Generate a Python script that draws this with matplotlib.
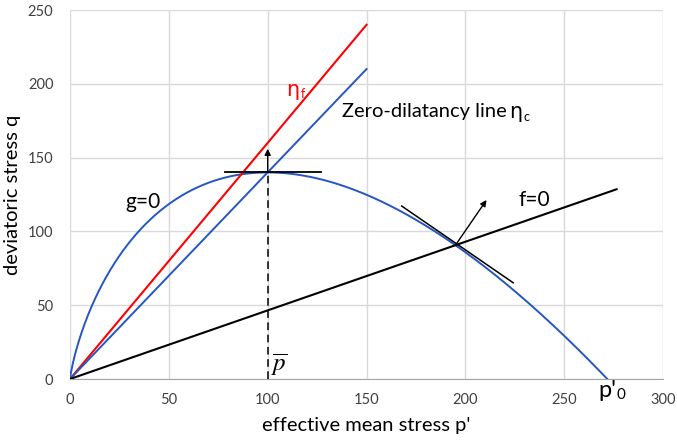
import numpy as np
import matplotlib
matplotlib.use("Agg")
import matplotlib.pyplot as plt

# Model parameters
M_c = 1.4          # slope of the zero-dilatancy line
eta_f = 1.6        # slope of the failure line
p0 = 271.8         # preconsolidation pressure p'_0
f_slope = 0.465    # slope of the f=0 line

# Straight-line extents (p' values)
p_eta = [0, 150]
p_f = [0, 276.5]

# Marked points
p_bar, q_bar = 100, 140
p_x, q_x = 195, 90.7

# Tangent segments and normal arrows (p', q)
tan_top_p = [78.4, 127.0]
tan_top_q = [140, 140]
tan_f_p = [167.8, 224.2]
tan_f_q = [117.2, 65.2]
arrow_top_end = (100, 156)
arrow_f_end = (210.7, 121.3)

x_ticks = [0, 50, 100, 150, 200, 250, 300]
y_ticks = [0, 50, 100, 150, 200, 250]

font = "Lato"
plt.rcParams["font.family"] = [font, "DejaVu Sans"]

fig = plt.figure(figsize=(6.77, 4.40), dpi=100)
ax = fig.add_axes([0.1034, 0.1386, 0.876, 0.8386])

blue = "#2456C4"
red = "#FF0000"

# Plastic potential g=0 (Cam-Clay form)
p = np.linspace(1e-6, p0, 600)
q = M_c * p * np.log(p0 / p)
ax.plot(p, q, color=blue, lw=1.4, zorder=3)

# Lines through the origin
ax.plot(p_eta, [eta_f * v for v in p_eta], color=red, lw=1.5, zorder=3)
ax.plot(p_eta, [M_c * v for v in p_eta], color=blue, lw=1.4, zorder=3)
ax.plot(p_f, [f_slope * v for v in p_f], color="black", lw=1.5, zorder=3)

# Tangents
ax.plot(tan_top_p, tan_top_q, color="black", lw=1.3, zorder=4)
ax.plot(tan_f_p, tan_f_q, color="black", lw=1.1, zorder=4)

# Dashed marker at p-bar
ax.plot([p_bar, p_bar], [0, q_bar], color="black", lw=1.1,
        dashes=(5, 3), zorder=4)

# Normal arrows
ax.annotate("", xy=arrow_top_end, xytext=(p_bar, q_bar),
            arrowprops=dict(arrowstyle="-|>", color="black", lw=1.0,
                            mutation_scale=9, shrinkA=0, shrinkB=0), zorder=5)
ax.annotate("", xy=arrow_f_end, xytext=(p_x, q_x),
            arrowprops=dict(arrowstyle="-|>", color="black", lw=1.0,
                            mutation_scale=9, shrinkA=0, shrinkB=0), zorder=5)

# Labels on the chart
eta = dict(family="DejaVu Sans")
ax.text(112.5, 196, "\u03b7", color=red, fontsize=15, ha="center",
        va="center", **eta)
ax.text(116.5, 193, "f", color=red, fontsize=9, ha="left", va="center")
ax.text(137.4, 181, "Zero-dilatancy line", fontsize=14.5, ha="left",
        va="center")
ax.text(222.3, 181, "\u03b7", fontsize=15, ha="left", va="center", **eta)
ax.text(229.3, 177.5, "c", fontsize=9, ha="left", va="center")
ax.text(37, 120, "g=0", fontsize=15, ha="center", va="center")
ax.text(234.7, 121, "f=0", fontsize=15, ha="center", va="center")
ax.text(101.5, 1, r"$\overline{p}$", fontsize=18, ha="left", va="bottom",
        math_fontfamily="stix")
ax.text(272, -8, "p'", fontsize=17, ha="center", va="center",
        clip_on=False)
ax.text(276.5, -11, "0", fontsize=11, ha="left", va="center",
        clip_on=False)

ax.set_xlim(0, 300)
ax.set_ylim(0, 250)
ax.set_xticks(x_ticks)
ax.set_yticks(y_ticks)
ax.set_xticklabels([str(t) for t in x_ticks])
ax.set_yticklabels([str(t) for t in y_ticks])
ax.grid(True, color="#D9D9D9", lw=1.0)
ax.set_axisbelow(True)
for side in ["top", "right", "left"]:
    ax.spines[side].set_visible(False)
ax.spines["bottom"].set_color("#A6A6A6")
ax.tick_params(length=0, labelsize=10.5, colors="#404040", pad=10)
ax.tick_params(axis="y", pad=12)
ax.set_xlabel("effective mean stress p'", fontsize=14.5)
ax.set_ylabel("deviatoric stress q", fontsize=14.5)
ax.xaxis.set_label_coords(0.5, -0.103)
ax.yaxis.set_label_coords(-0.083, 0.5)

fig.savefig("out.png", dpi=100)
